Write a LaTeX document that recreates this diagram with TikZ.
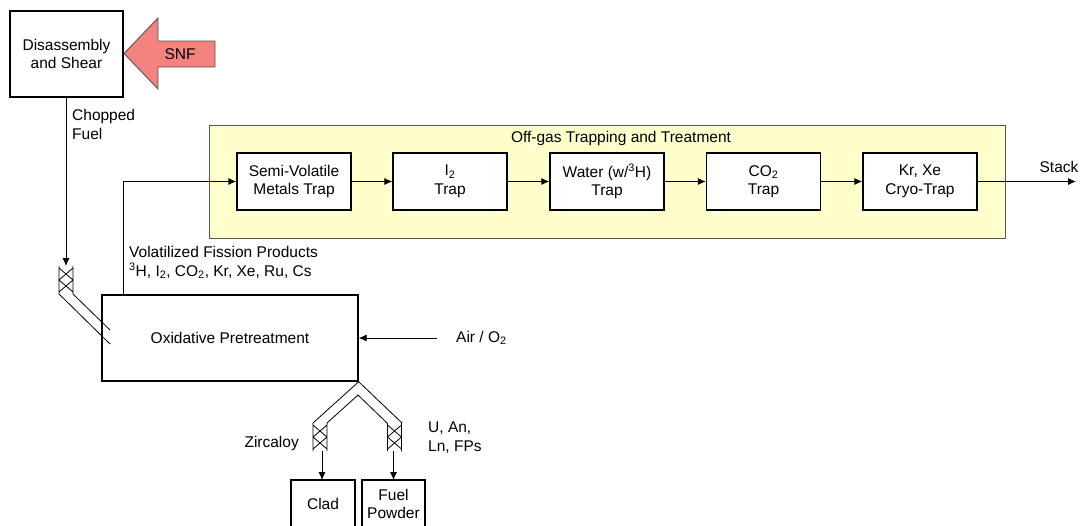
\documentclass[tikz,border=0pt]{standalone}
\usepackage{fontspec}
\setmainfont{Liberation Sans}
\usetikzlibrary{arrows.meta}
\definecolor{offgas}{HTML}{FFFFCC}
\definecolor{snfred}{HTML}{F4827E}
\definecolor{edgegray}{HTML}{555555}
\tikzset{
  box/.style={draw=black, line width=1.4pt, fill=white, inner sep=0pt, align=center},
  trapbox/.style={box, minimum width=114pt, minimum height=57pt},
  arr/.style={line width=0.9pt, -{Latex[length=8pt,width=7pt]}},
  pipe/.style={line width=0.8pt},
  lbl/.style={inner sep=0pt, align=left},
  valve/.pic={
    \draw[pipe] (-7,0) -- (-7,28) (7,0) -- (7,28)
      (-7,2) -- (7,14) (7,2) -- (-7,14)
      (-7,14) -- (7,26) (7,14) -- (-7,26);
  }
}
\begin{document}
\begin{tikzpicture}[x=1pt,y=-1pt,font=\fontsize{15.5}{18.5}\selectfont]
\useasboundingbox (0,0) rectangle (1083,525);
\clip (0,0) rectangle (1083,525);

% off-gas enclosure
\node[draw=edgegray, line width=0.9pt, fill=offgas, minimum width=796pt, minimum height=113pt, inner sep=0pt] (offgas) at (607,181.5) {};
\node[lbl] (title) at (621,138) {Off-gas Trapping and Treatment};

% head-end
\node[box, minimum width=113pt, minimum height=86pt] (dis) at (66.5,54) {Disassembly\\and Shear};
\draw[fill=snfred, draw=edgegray, line width=0.9pt] (124,53.5) -- (158,18) -- (158,41) -- (215,41) -- (215,67) -- (158,67) -- (158,89) -- cycle;
\node[lbl] (snf) at (180,54) {SNF};

\node[lbl, anchor=west] (chop) at (72,124.5) {Chopped\\Fuel};

\node[box, minimum width=256pt, minimum height=86pt] (ox) at (230,338) {Oxidative Pretreatment};

% feed valve and chute
\coordinate (fv) at (66,266);
\draw[arr] (dis.south -| fv) -- (fv);
\pic at (fv) {valve};
\draw[pipe] (59,294) -- (110,344) (73,294) -- (110,330);

% traps
\node[trapbox] (t1) at (294,181.5) {Semi-Volatile\\Metals Trap};
\node[trapbox] (t2) at (450,181.5) {I\textsubscript{2}\\Trap};
\node[trapbox] (t3) at (607,181.5) {Water (w/\textsuperscript{3}H)\\Trap};
\node[trapbox] (t4) at (763.5,181.5) {CO\textsubscript{2}\\Trap};
\node[trapbox] (t5) at (920,181.5) {Kr, Xe\\Cryo-Trap};

\draw[arr] ([xshift=-107pt]ox.north) |- (t1.west);
\draw[arr] (t1) -- (t2);
\draw[arr] (t2) -- (t3);
\draw[arr] (t3) -- (t4);
\draw[arr] (t4) -- (t5);
\coordinate (stack) at (1076,181.5);
\draw[arr] (t5.east) -- (stack);
\node[lbl] (stacklbl) at (1059,167) {Stack};

\node[lbl, anchor=west] (vfp) at (129,262.5) {Volatilized Fission Products\\\textsuperscript{3}H, I\textsubscript{2}, CO\textsubscript{2}, Kr, Xe, Ru, Cs};

% air
\coordinate (air) at (437,338);
\draw[arr] (air) -- (ox.east);
\node[lbl, anchor=west] (airlbl) at (456,338) {Air / O\textsubscript{2}};

% split chute
\draw[pipe] (313,423) -- (ox.south east) -- (402,423);
\draw[pipe] (327,423) -- (358,395) -- (387,423);
\pic at (320,423) {valve};
\pic at (394.5,423) {valve};

\node[box, minimum width=64pt, minimum height=48pt] (clad) at (323,504) {Clad};
\node[box, minimum width=63pt, minimum height=48pt] (fuel) at (393.5,504) {Fuel\\Powder};
\draw[arr] (322,451) -- (322,480);
\draw[arr] (393.5,451) -- (393.5,480);

\node[lbl, anchor=east] (zirc) at (299,443) {Zircaloy};
\node[lbl, anchor=west] (uan) at (428,437.5) {U, An,\\Ln, FPs};
\end{tikzpicture}
\end{document}
